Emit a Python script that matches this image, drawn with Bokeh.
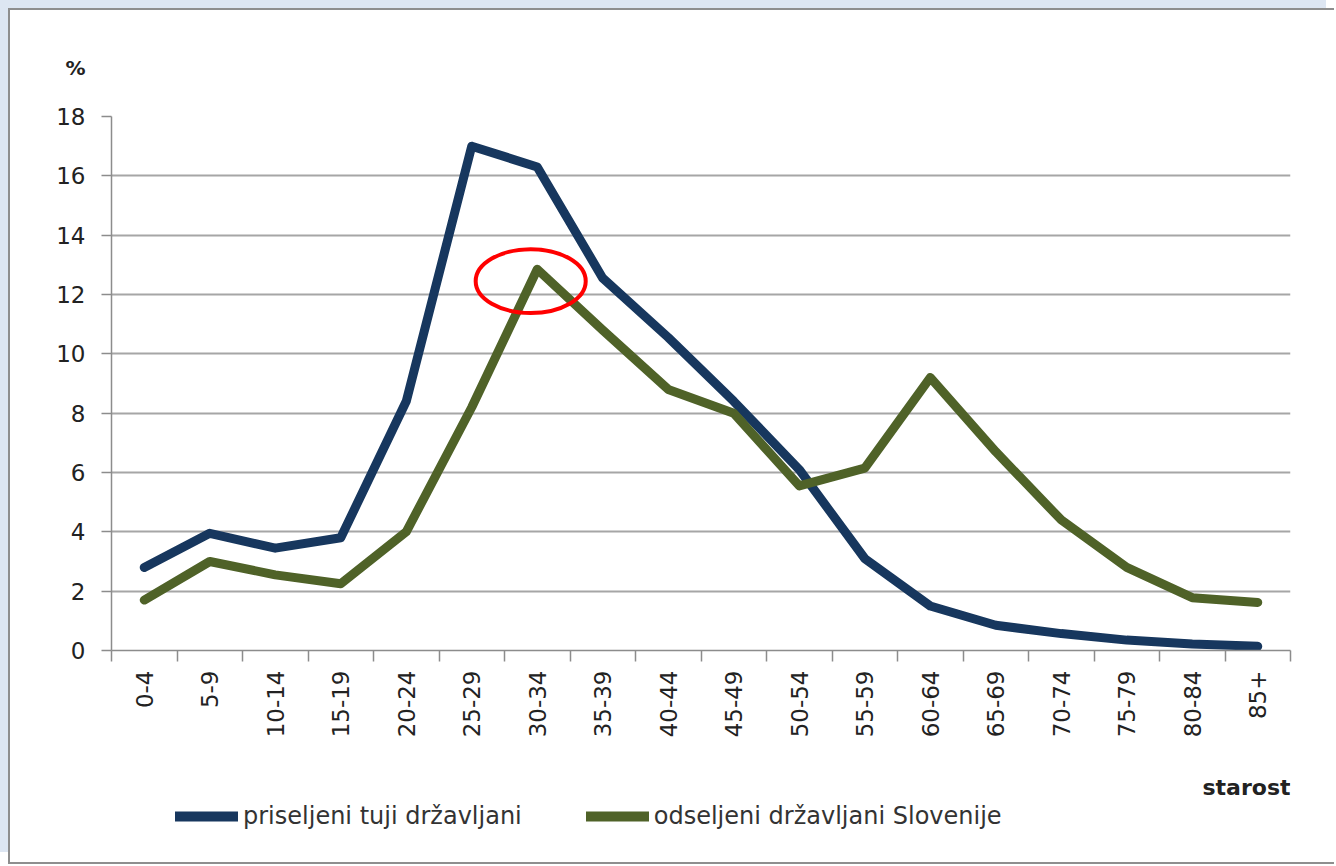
import math
from bokeh.plotting import figure
from bokeh.layouts import column
from bokeh.models import FixedTicker, Legend, LegendItem, Title, Label, Range1d
from bokeh.embed import file_html
from bokeh.resources import INLINE

# ---- data ----
age_groups = ["0-4", "5-9", "10-14", "15-19", "20-24", "25-29", "30-34", "35-39",
              "40-44", "45-49", "50-54", "55-59", "60-64", "65-69", "70-74",
              "75-79", "80-84", "85+"]
immigrants = [2.8, 3.95, 3.45, 3.8, 8.4, 17.0, 16.3, 12.55, 10.55, 8.4, 6.1, 3.1,
              1.5, 0.85, 0.57, 0.35, 0.22, 0.14]
emigrants = [1.7, 3.0, 2.55, 2.25, 4.0, 8.2, 12.85, 10.8, 8.8, 8.0, 5.55, 6.15,
             9.2, 6.7, 4.4, 2.8, 1.78, 1.62]
y_ticks = [0, 2, 4, 6, 8, 10, 12, 14, 16, 18]
series_names = ["priseljeni tuji državljani", "odseljeni državljani Slovenije"]
y_title = "%"
x_title = "starost"
highlight_group = "30-34"
highlight_value = 12.45

FONT = "DejaVu Sans"
BLUE = "#17375e"
GREEN = "#4f6228"
GRID = "#a6a6a6"
AXIS = "#8c8c8c"
TEXT = "#222222"
W = 1326

n = len(age_groups)
xs = [i + 0.5 for i in range(n)]
x_range = Range1d(0, n)

p = figure(width=W, height=740, output_backend="svg", toolbar_location=None,
           x_range=x_range, y_range=Range1d(0, 18),
           min_border_left=101, min_border_right=46, min_border_top=106,
           min_border_bottom=100)
p.outline_line_color = None
p.background_fill_color = "white"
p.border_fill_color = "white"

# axes
p.xaxis.ticker = FixedTicker(ticks=xs, minor_ticks=list(range(n + 1)))
p.xaxis.major_label_overrides = {x: lab for x, lab in zip(xs, age_groups)}
p.xaxis.major_label_orientation = math.pi / 2
p.xaxis.major_tick_line_color = None
p.xaxis.minor_tick_line_color = AXIS
p.xaxis.minor_tick_line_width = 1.5
p.xaxis.minor_tick_out = 11
p.xaxis.minor_tick_in = 0
p.xaxis.axis_line_color = AXIS
p.xaxis.axis_line_width = 1.5
p.xaxis.major_label_standoff = 9
p.xaxis.major_label_text_font = FONT
p.xaxis.major_label_text_font_size = "23px"
p.xaxis.major_label_text_color = TEXT

p.yaxis.ticker = FixedTicker(ticks=y_ticks)
p.yaxis.major_tick_out = 10
p.yaxis.major_tick_in = 0
p.yaxis.major_tick_line_color = AXIS
p.yaxis.major_tick_line_width = 1.5
p.yaxis.minor_tick_line_color = None
p.yaxis.axis_line_color = AXIS
p.yaxis.axis_line_width = 1.5
p.yaxis.major_label_standoff = 16
p.yaxis.major_label_text_font = FONT
p.yaxis.major_label_text_font_size = "23px"
p.yaxis.major_label_text_color = TEXT

p.xgrid.grid_line_color = None
p.ygrid.ticker = FixedTicker(ticks=y_ticks)
p.ygrid.grid_line_color = GRID
p.ygrid.grid_line_width = 2

# series
line_style = dict(line_width=9, line_join="round", line_cap="round")
p.line(xs, immigrants, line_color=BLUE, **line_style)
p.line(xs, emigrants, line_color=GREEN, **line_style)

# highlight ellipse
p.ellipse(x=[xs[age_groups.index(highlight_group)] - 0.1], y=[highlight_value],
          width=1.68, height=2.15, fill_color=None, line_color="#ff0000", line_width=4)

# y title
p.add_layout(Title(text=y_title, align="left", offset=-46, standoff=73,
                   text_font=FONT, text_font_style="bold", text_font_size="20px",
                   text_color=TEXT), "above")

# ---- lower strip: x title and legend (frame aligned with the chart frame) ----
H2 = 112
p2 = figure(width=W, height=H2, output_backend="svg", toolbar_location=None,
            x_range=x_range, y_range=Range1d(-200, -100),
            min_border=0, x_axis_location=None, y_axis_location=None)
p2.outline_line_color = None
p2.grid.visible = False
p2.background_fill_color = "white"
p2.border_fill_color = "white"

# legend proxies (same series, drawn outside this strip's visible y-range)
l1 = p2.line(xs, immigrants, line_color=BLUE, line_width=10, line_cap="round")
l2 = p2.line(xs, emigrants, line_color=GREEN, line_width=10, line_cap="round")

p2.add_layout(Label(x=n, y=75, y_units="screen", text=x_title, text_font=FONT,
                    text_font_style="bold", text_font_size="22px", text_color=TEXT,
                    text_align="right", text_baseline="middle"))

legend = Legend(items=[LegendItem(label=series_names[0], renderers=[l1]),
                       LegendItem(label=series_names[1], renderers=[l2])],
                orientation="horizontal", location=(64, 32),
                glyph_width=63, glyph_height=24, label_standoff=5, spacing=64,
                padding=0, margin=0, border_line_color=None,
                background_fill_alpha=0,
                label_text_font=FONT, label_text_font_size="24px",
                label_text_color="#333333")
p2.add_layout(legend, "center")

layout = column(p, p2, spacing=0,
                styles={"margin-left": "10px", "margin-top": "10px",
                        "box-shadow": "-2px -2px 0 0 #8e8e8e, -2px 2px 0 0 #8e8e8e, -10px -10px 0 0 #dde6f2"})

open("out.html", "w").write(file_html(layout, INLINE))
